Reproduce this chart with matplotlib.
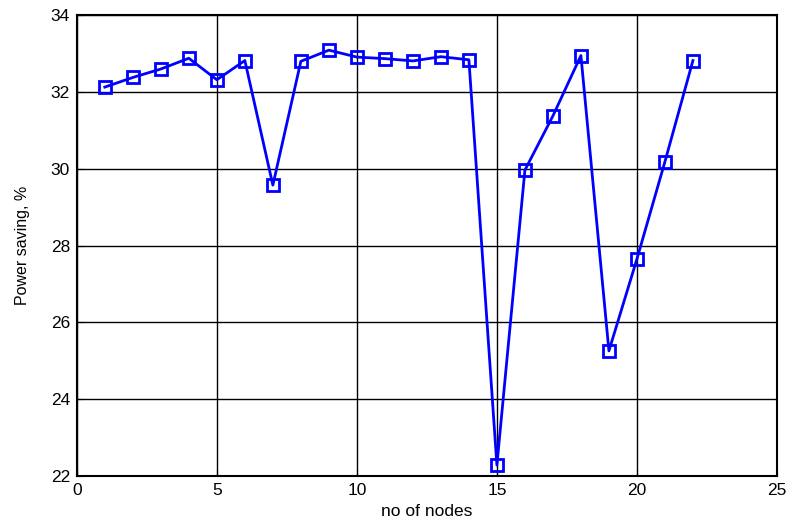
import matplotlib.pyplot as plt

plt.rcParams["font.family"] = ["Liberation Sans", "DejaVu Sans"]

nodes = list(range(1, 23))
power_saving = [32.12, 32.37, 32.59, 32.87, 32.31, 32.81, 29.57, 32.79, 33.08,
                32.90, 32.86, 32.80, 32.91, 32.83, 22.29, 29.96, 31.37, 32.94,
                25.26, 27.65, 30.18, 32.81]

fig = plt.figure(figsize=(7.92, 5.28), dpi=100)
ax = fig.add_axes([0.097, 0.098, 0.884, 0.874])

ax.plot(nodes, power_saving, color="#0000ff", lw=2, marker="s", ms=9,
        mfc="none", mec="#0000ff", mew=2)

ax.set_xlim(0, 25)
ax.set_ylim(22, 34)
ax.set_xticks([0, 5, 10, 15, 20, 25])
ax.set_yticks([22, 24, 26, 28, 30, 32, 34])
ax.grid(True, color="black", lw=1, ls="-")
ax.tick_params(direction="in", labelsize=12.5, length=4, pad=5)
for s in ax.spines.values():
    s.set_linewidth(1.5)

ax.set_xlabel("no of nodes", fontsize=12.5, labelpad=4)
ax.set_ylabel("Power saving, %", fontsize=11.5, labelpad=15)

fig.savefig("out.png", dpi=100)
